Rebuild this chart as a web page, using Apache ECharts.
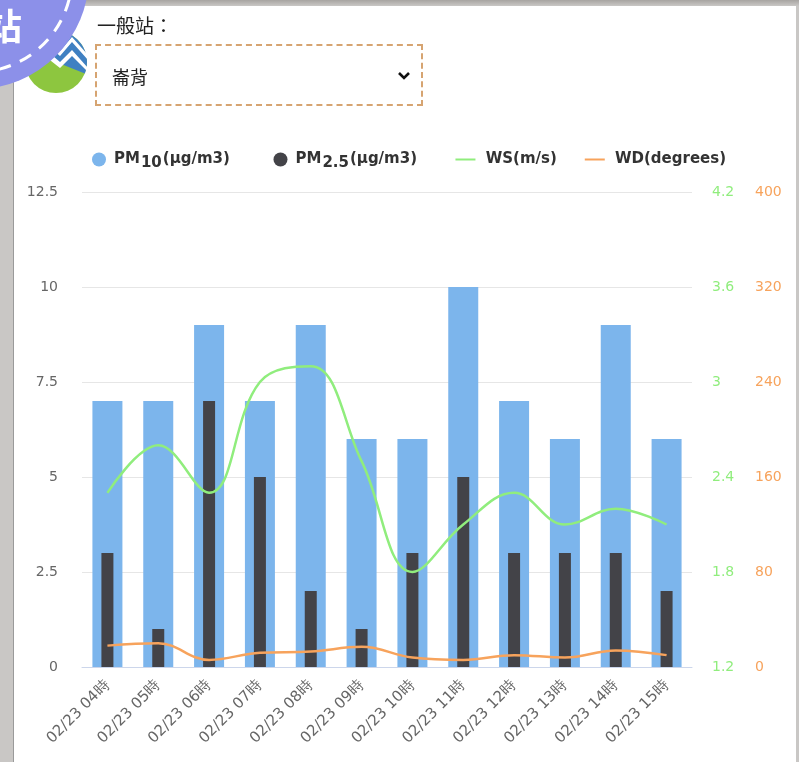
<!DOCTYPE html>
<html>
<head>
<meta charset="utf-8">
<script src="https://cdn.jsdelivr.net/npm/echarts@6/dist/echarts.min.js"></script>
<style>
  html, body { margin: 0; padding: 0; background: #bfbfbf; }
  #frame { position: relative; width: 799px; height: 762px; overflow: hidden;
           background: linear-gradient(#a7a4a1, #c9c7c5 6px, #c9c7c5); }
  #panel { position: absolute; left: 13px; top: 6px; width: 782px; height: 756px; background: #fff;
           border-left: 1px solid #9a9a9a; }
  #chart { position: absolute; left: 0; top: 0; width: 799px; height: 762px; }
  #label { position: absolute; left: 97px; top: 11px; font: 19px "Noto Sans CJK TC", sans-serif; color: #222; }
  #select { position: absolute; left: 95px; top: 44px; width: 328px; height: 62px;
            border: 2px dashed #d6a471; background: #fff; box-sizing: border-box; }
  #select span { position: absolute; left: 15px; top: 17px; font: 18px "Noto Sans CJK TC", sans-serif; color: #222; }
  #select svg { position: absolute; right: 10px; top: 25px; }
</style>
</head>
<body>
<div id="frame">
  <div id="panel"></div>
  <div id="chart"></div>
  <div id="label">一般站：</div>
  <div id="select"><span>崙背</span>
    <svg width="14" height="10" viewBox="0 0 14 10"><path d="M2 2 L7 7 L12 2" stroke="#111" stroke-width="2.6" fill="none"/></svg>
  </div>
</div>
<script>
// hourly readings for the station
var categories = ['02/23 04時', '02/23 05時', '02/23 06時', '02/23 07時', '02/23 08時', '02/23 09時',
                  '02/23 10時', '02/23 11時', '02/23 12時', '02/23 13時', '02/23 14時', '02/23 15時'];
var pm10 = [7, 7, 9, 7, 9, 6, 6, 10, 7, 6, 9, 6];
var pm25 = [3, 1, 7, 5, 2, 1, 3, 5, 3, 3, 3, 2];
var ws = [2.3, 2.6, 2.3, 3.0, 3.1, 2.5, 1.8, 2.1, 2.3, 2.1, 2.2, 2.1];
var wd = [18, 20, 6, 12, 13, 17, 8, 6, 10, 8, 14, 10];

var legendText = {
    'PM10': '{b|PM}{s|10}{b|(μg/m3)}{b|\u00a0\u00a0\u00a0}',
    'PM2.5': '{b|PM}{s|2.5}{b|(μg/m3)}{b|\u00a0\u00a0}',
    'WS': '{b|\u00a0WS(m/s)}',
    'WD': '{b|\u00a0WD(degrees)}'
};
var colors = ['#7cb5ec', '#434348', '#90ed7d', '#f7a35c'];
var font = '"DejaVu Sans", Verdana, sans-serif';
var lineIcon = 'path://M0,0 L20,0 L20,2 L0,2 Z';

var myChart = echarts.init(document.getElementById('chart'));

var legendRich = {
    b: { fontSize: 15, fontFamily: font, fontWeight: 'bold', color: '#333' },
    s: { fontSize: 15, fontFamily: font, fontWeight: 'bold', color: '#333', padding: [8, 1, 0, 1] }
};

var option = {
    animation: false,
    color: colors,
    textStyle: { fontFamily: font },
    graphic: [
        // logo behind the badge
        { type: 'circle', shape: { cx: 56, cy: 62, r: 31 }, style: { fill: '#8dc63f' } },
        { type: 'sector', shape: { cx: 56, cy: 62, r: 31, startAngle: -Math.PI * 0.7, endAngle: Math.PI * 0.12 }, style: { fill: '#3f80c2' } },
        { type: 'polygon', shape: { points: [[24, 70], [46, 50], [60, 62], [72, 50], [88, 68], [88, 72], [72, 56], [60, 68], [46, 57], [24, 77]] }, style: { fill: '#fff' } },
        { type: 'polygon', shape: { points: [[30, 60], [46, 44], [60, 56], [72, 42], [88, 60], [88, 55], [72, 37], [60, 51], [46, 39], [30, 54]] }, style: { fill: '#fff' } },
        // badge in the corner
        { type: 'circle', shape: { cx: -24, cy: -24, r: 113 }, style: { fill: '#8c90e9' } },
        { type: 'circle', shape: { cx: -24, cy: -24, r: 96 }, style: { fill: 'none', stroke: '#fff', lineWidth: 3, lineDash: [13, 10] } },
        { type: 'text', left: -14, top: 8, style: { text: '站', fill: '#fff', font: 'bold 36px "Noto Sans CJK TC", sans-serif' } }
    ],
    legend: {
        top: 147,
        left: 87,
        itemGap: 28,
        itemWidth: 20,
        itemHeight: 14,
        data: [
            { name: 'PM10', icon: 'circle' },
            { name: 'PM2.5', icon: 'circle' },
            { name: 'WS', icon: lineIcon },
            { name: 'WD', icon: lineIcon }
        ],
        formatter: function (name) { return legendText[name]; },
        textStyle: { color: '#333', rich: legendRich }
    },
    grid: { left: 82, right: 107, top: 192, bottom: 95 },
    xAxis: [{
        type: 'category',
        data: categories,
        axisLine: { lineStyle: { color: '#ccd6eb' } },
        axisTick: { show: false },
        axisLabel: { rotate: 45, color: '#666', fontSize: 15, interval: 0, margin: 16 }
    }, {
        type: 'category',
        data: categories,
        show: false
    }],
    yAxis: [{
        type: 'value',
        min: 0, max: 12.5, interval: 2.5,
        axisLabel: { color: '#666', fontSize: 14, margin: 24 },
        splitLine: { lineStyle: { color: '#e6e6e6' } }
    }, {
        type: 'value',
        position: 'right',
        min: 1.2, max: 4.2, interval: 0.6,
        axisLabel: { color: '#90ed7d', fontSize: 14, margin: 20, formatter: function (v) { return +v.toFixed(1); } },
        splitLine: { show: false }
    }, {
        type: 'value',
        position: 'right',
        offset: 43,
        min: 0, max: 400, interval: 80,
        axisLabel: { color: '#f7a35c', fontSize: 14, margin: 20 },
        splitLine: { show: false }
    }],
    series: [{
        name: 'PM10',
        type: 'bar',
        data: pm10,
        barWidth: 30
    }, {
        name: 'PM2.5',
        type: 'bar',
        xAxisIndex: 1,
        data: pm25,
        barWidth: 12
    }, {
        name: 'WS',
        type: 'line',
        yAxisIndex: 1,
        data: ws,
        smooth: 0.4,
        showSymbol: false,
        lineStyle: { width: 2.5 }
    }, {
        name: 'WD',
        type: 'line',
        yAxisIndex: 2,
        data: wd,
        smooth: 0.4,
        showSymbol: false,
        lineStyle: { width: 2.5 }
    }]
};
myChart.setOption(option);
</script>
</body>
</html>
